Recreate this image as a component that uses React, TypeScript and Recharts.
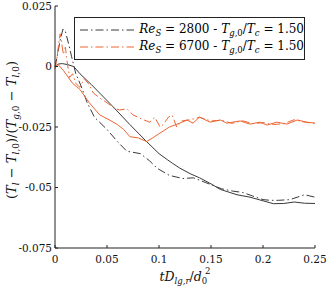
import React from 'react';
import { LineChart, Line, XAxis, YAxis, Legend } from 'recharts';

const xTicks = [0, 0.05, 0.1, 0.15, 0.2, 0.25];
const yTicks = [-0.075, -0.05, -0.025, 0, 0.025];

// Re = 2800, solid (unlabelled)
const t2800Solid = [0, 0.003, 0.007, 0.012, 0.018, 0.024, 0.035, 0.043, 0.056, 0.072, 0.088, 0.1, 0.108, 0.113, 0.12, 0.13, 0.139, 0.15, 0.159, 0.175, 0.1875, 0.2, 0.21, 0.22, 0.23, 0.24, 0.25];
const v2800Solid = [0, 0.001, 0.0012, 0.0008, 0, -0.003, -0.0075, -0.011, -0.0167, -0.024, -0.031, -0.036, -0.0385, -0.04, -0.042, -0.0443, -0.046, -0.0485, -0.0508, -0.053, -0.054, -0.0555, -0.0567, -0.0566, -0.056, -0.0565, -0.0566];

// Re = 2800, dash-dot
const t2800Dash = [0, 0.002, 0.005, 0.0077, 0.01, 0.013, 0.016, 0.02, 0.025, 0.031, 0.038, 0.05, 0.06, 0.069, 0.082, 0.091, 0.098, 0.11, 0.123, 0.133, 0.145, 0.16, 0.171, 0.18, 0.19, 0.2, 0.207, 0.215, 0.226, 0.235, 0.24, 0.25];
const v2800Dash = [0, 0.004, 0.011, 0.0155, 0.0145, 0.0095, 0.004, -0.003, -0.008, -0.015, -0.021, -0.026, -0.031, -0.035, -0.036, -0.039, -0.042, -0.045, -0.0463, -0.046, -0.048, -0.0505, -0.0515, -0.052, -0.0535, -0.055, -0.0553, -0.0553, -0.055, -0.0537, -0.053, -0.054];

// Re = 6700, solid (unlabelled)
const t6700Solid = [0, 0.003, 0.008, 0.017, 0.024, 0.033, 0.043, 0.052, 0.06, 0.066, 0.072, 0.08, 0.088, 0.094, 0.101, 0.11, 0.12, 0.127, 0.1327, 0.139, 0.149, 0.159, 0.165, 0.178, 0.1875, 0.197, 0.204, 0.213, 0.223, 0.233, 0.242, 0.25];
const v6700Solid = [0, 0.0008, -0.0016, -0.007, -0.0095, -0.015, -0.02, -0.022, -0.024, -0.026, -0.029, -0.0295, -0.031, -0.0295, -0.0275, -0.025, -0.0234, -0.0221, -0.0234, -0.0209, -0.023, -0.0221, -0.0234, -0.0225, -0.0238, -0.023, -0.0242, -0.023, -0.0238, -0.0221, -0.023, -0.0234];

// Re = 6700, dash-dot
const t6700Dash = [0, 0.002, 0.004, 0.005, 0.006, 0.008, 0.01, 0.012, 0.014, 0.017, 0.02, 0.024, 0.028, 0.032, 0.037, 0.043, 0.05, 0.056, 0.062, 0.069, 0.075, 0.08, 0.085, 0.091, 0.096, 0.101, 0.104, 0.109, 0.1125, 0.117, 0.122, 0.13, 0.139, 0.15, 0.16, 0.17, 0.18, 0.19, 0.2, 0.21, 0.22, 0.23, 0.24, 0.25];
const v6700Dash = [-0.001, 0.004, 0.011, 0.0135, 0.011, 0.005, 0.008, 0.001, -0.0045, -0.003, -0.007, -0.0086, -0.005, -0.007, -0.011, -0.013, -0.015, -0.017, -0.018, -0.0175, -0.02, -0.021, -0.022, -0.023, -0.021, -0.025, -0.024, -0.021, -0.02, -0.025, -0.0225, -0.022, -0.021, -0.0225, -0.0222, -0.0235, -0.0224, -0.0236, -0.0232, -0.024, -0.0236, -0.022, -0.023, -0.0235];

const zip = (t: number[], v: number[]) => t.map((x, i) => ({ t: x, v: v[i] }));

const BLACK = '#3a3a3a';
const ORANGE = '#ec6633';
const DASHDOT = '8 3 1.5 3';
const FONT = "'DejaVu Serif', serif";

const legendItems = [
  { re: '2800', color: BLACK },
  { re: '6700', color: ORANGE },
];

const subStyle = { fontSize: 8.5, verticalAlign: '-3px', lineHeight: 0 };

const LegendBox = () => (
  <div
    style={{
      border: '1px solid #222',
      background: '#fff',
      padding: '3px 0 3px 5px',
      fontFamily: FONT,
      fontSize: 12,
      lineHeight: '17px',
      boxSizing: 'border-box',
      width: 231,
      height: 43,
    }}
  >
    {legendItems.map((it) => (
      <div key={it.re} style={{ display: 'flex', alignItems: 'center', whiteSpace: 'nowrap', height: 17 }}>
        <svg width={56} height={10} style={{ marginRight: 5 }}>
          <line x1={0} y1={5} x2={56} y2={5} stroke={it.color} strokeWidth={1} strokeDasharray={DASHDOT} />
        </svg>
        <span>
          <i>Re</i>
          <span style={{ ...subStyle, fontStyle: 'italic' }}>S</span>
          {' = ' + it.re + ' - '}
          <i>T</i>
          <span style={subStyle}><i>g</i>,0</span>/<i>T</i>
          <span style={subStyle}><i>c</i></span>
          {' = 1.50'}
        </span>
      </div>
    ))}
  </div>
);

const YLabel = () => (
  <text
    transform="translate(16,130) rotate(-90)"
    textAnchor="middle"
    fontFamily={FONT}
    fontSize={13}
    fill="#111"
  >
    (<tspan fontStyle="italic">T</tspan>
    <tspan fontSize={9} fontStyle="italic" dy={3}>l</tspan>
    <tspan dy={-3}> − </tspan>
    <tspan fontStyle="italic">T</tspan>
    <tspan fontSize={9} dy={3}><tspan fontStyle="italic">l</tspan>,0</tspan>
    <tspan dy={-3}>)/(</tspan>
    <tspan fontStyle="italic">T</tspan>
    <tspan fontSize={9} dy={3}><tspan fontStyle="italic">g</tspan>,0</tspan>
    <tspan dy={-3}> − </tspan>
    <tspan fontStyle="italic">T</tspan>
    <tspan fontSize={9} dy={3}><tspan fontStyle="italic">l</tspan>,0</tspan>
    <tspan dy={-3}>)</tspan>
  </text>
);

const XLabel = () => (
  <text x={185} y={281} textAnchor="middle" fontFamily={FONT} fontSize={12.5} fill="#111" fontStyle="italic">
    tD
    <tspan fontSize={8.5} dy={3}>lg,r</tspan>
    <tspan dy={-3} fontStyle="normal">/</tspan>
    <tspan>d</tspan>
    <tspan fontSize={8.5} fontStyle="normal" dy={3}>0</tspan>
    <tspan fontSize={8.5} fontStyle="normal" dx={-2} dy={-10}>2</tspan>
  </text>
);

const tickStyle = { fontFamily: FONT, fontSize: 10.5, fill: '#111' };
const axisLine = { stroke: '#222', strokeWidth: 1 };

export default function App() {
  return (
    <div style={{ width: 327, height: 286, background: '#fff' }}>
      <style>{'body{margin:0}'}</style>
      <LineChart width={327} height={286} margin={{ top: 6, right: 12, left: 10, bottom: 8 }} style={{ fontFamily: FONT }}>
        <XAxis
          dataKey="t"
          type="number"
          domain={[0, 0.25]}
          ticks={xTicks}
          tickFormatter={(v: number) => String(v)}
          height={30}
          tickSize={-3}
          tickMargin={11}
          tick={tickStyle}
          axisLine={axisLine}
          tickLine={axisLine}
          allowDuplicatedCategory={false}
          label={{ content: () => <XLabel /> }}
        />
        <XAxis
          xAxisId="top"
          orientation="top"
          type="number"
          domain={[0, 0.25]}
          ticks={xTicks}
          height={0}
          tickSize={-3}
          tick={false}
          axisLine={axisLine}
          tickLine={axisLine}
        />
        <YAxis
          type="number"
          domain={[-0.075, 0.025]}
          ticks={yTicks}
          tickFormatter={(v: number) => String(v)}
          width={45}
          tickSize={-3}
          tickMargin={6}
          tick={tickStyle}
          axisLine={axisLine}
          tickLine={axisLine}
          label={{ content: () => <YLabel /> }}
        />
        <YAxis
          yAxisId="right"
          orientation="right"
          type="number"
          domain={[-0.075, 0.025]}
          ticks={yTicks}
          width={0}
          tickSize={-3}
          tick={false}
          axisLine={axisLine}
          tickLine={axisLine}
        />
        <Legend
          layout="horizontal"
          verticalAlign="middle"
          align="center"
          wrapperStyle={{ left: 74, top: 17, width: 231 }}
          content={() => <LegendBox />}
        />
        <Line data={zip(t2800Solid, v2800Solid)} dataKey="v" name="2800 solid" stroke={BLACK} strokeWidth={1} dot={false} legendType="none" isAnimationActive={false} />
        <Line data={zip(t2800Dash, v2800Dash)} dataKey="v" name="2800" stroke={BLACK} strokeWidth={1} strokeDasharray={DASHDOT} dot={false} isAnimationActive={false} />
        <Line data={zip(t6700Solid, v6700Solid)} dataKey="v" name="6700 solid" stroke={ORANGE} strokeWidth={1} dot={false} legendType="none" isAnimationActive={false} />
        <Line data={zip(t6700Dash, v6700Dash)} dataKey="v" name="6700" stroke={ORANGE} strokeWidth={1} strokeDasharray={DASHDOT} dot={false} isAnimationActive={false} />
      </LineChart>
    </div>
  );
}
